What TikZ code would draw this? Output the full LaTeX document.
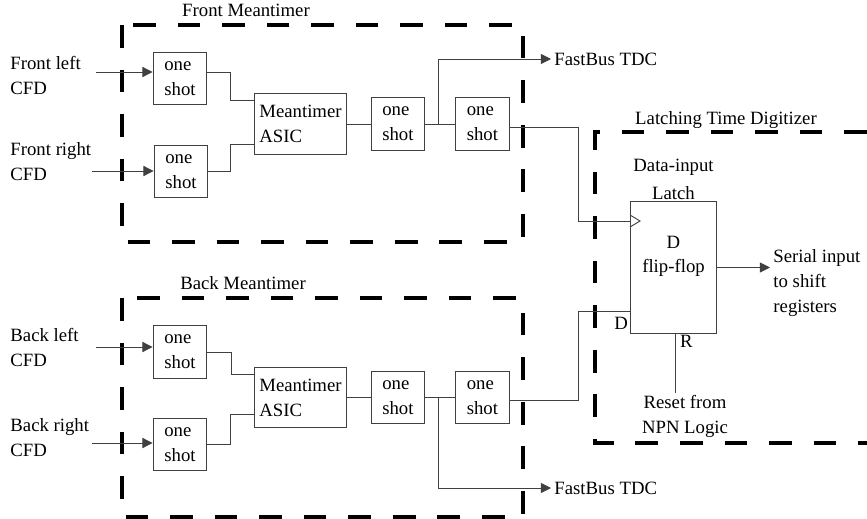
\documentclass[tikz,border=0pt]{standalone}
\usepackage{fontspec}
\setmainfont{Liberation Serif}
\usetikzlibrary{arrows.meta, positioning, calc}

\begin{document}
\begin{tikzpicture}[
  x=0.64pt, y=-0.64pt,
  font=\fontsize{12}{16}\selectfont,
  oneshot/.style={rectangle, draw=black!75, line width=0.6pt, minimum width=34.5pt, minimum height=33.5pt, align=left, inner sep=1pt},
  asic/.style={rectangle, draw=black!75, line width=0.6pt, minimum width=59pt, minimum height=38.5pt, align=left, inner sep=1pt},
  latchbox/.style={rectangle, draw=black!75, line width=0.6pt, minimum width=55.5pt, minimum height=84pt},
  group/.style={line width=2pt, dash pattern=on 14.5pt off 14pt},
  wire/.style={line width=0.6pt, draw=black!75},
  sig/.style={wire, -{Triangle[length=6.5pt, width=6.5pt]}},
  lbl/.style={align=left, inner sep=2pt}
]
\useasboundingbox (0,0) rectangle (867,519);

% Dashed groups
\draw[group] (122,25) rectangle (523,242);
\draw[group] (122,298) rectangle (523,517);
\draw[group] (867,132) -- (595,132) -- (595,443) -- (867,443);
\node (frontT) at (246,10) {Front Meantimer};
\node (backT) at (243,283) {Back Meantimer};
\node (latchT) at (726,120) {Latching Time Digitizer};

% Front meantimer
\node[oneshot] (os1) at (180,78.5) {one\\shot};
\node[oneshot] (os2) at (181,171.5) {one\\shot};
\node[asic] (asicF) at (300.5,124) {Meantimer\\ASIC};
\node[oneshot, right=15pt of asicF] (os3) {one\\shot};
\node[oneshot, right=19pt of os3] (os4) {one\\shot};

% Back meantimer
\node[oneshot] (os5) at (180,352) {one\\shot};
\node[oneshot] (os6) at (180,444.5) {one\\shot};
\node[asic] (asicB) at (300.5,397.5) {Meantimer\\ASIC};
\node[oneshot, right=15pt of asicB] (os7) {one\\shot};
\node[oneshot, right=19pt of os7] (os8) {one\\shot};

% Inputs
\node[lbl, anchor=west] (fl) at (7,75) {Front left\\CFD};
\node[lbl, anchor=west] (fr) at (7,162) {Front right\\CFD};
\node[lbl, anchor=west] (bl) at (7,347) {Back left\\CFD};
\node[lbl, anchor=west] (br) at (7,438) {Back right\\CFD};
\coordinate (inFL) at (96,72);
\coordinate (inFR) at (92,171);
\coordinate (inBL) at (96,347);
\coordinate (inBR) at (92,443);

% Outputs to TDC
\node[lbl, anchor=west] (fbF) at (551,59) {FastBus TDC};
\node[lbl, anchor=west] (fbB) at (551,488) {FastBus TDC};

% Latch
\node[latchbox] (ff) at (673.5,267.5) {};
\node[align=center] (fftxt) at ([yshift=7pt]ff.center) {D\\[-1pt]flip-flop};
\node[align=center, anchor=south, inner sep=1pt] (ffT) at (ff.north) {Data-input\\[2pt]Latch};
\node[anchor=north west, inner sep=1pt] (rlbl) at ([xshift=3pt]ff.south) {R};
\node[anchor=north east, inner sep=1pt] (dlbl) at ([yshift=-3pt]ff.south west |- 0,311) {D};
\coordinate (ffclk) at (630,221);
\coordinate (ffd) at (630,311);
\node[lbl, anchor=west] (serial) at (770,283) {Serial input\\to shift\\registers};
\node[align=center, anchor=north, inner sep=1pt] (reset) at (685,393) {Reset from\\NPN Logic};

% Arrows
\draw[sig] (inFL) -- (inFL -| os1.west);
\draw[sig] (inFR) -- (inFR -| os2.west);
\draw[sig] (inBL) -- (inBL -| os5.west);
\draw[sig] (inBR) -- (inBR -| os6.west);

\draw[wire] ([yshift=4pt]os1.east) -- ++(23,0) |- ([yshift=15pt]asicF.west);
\draw[wire] (os2.east) -- ++(22,0) |- ([yshift=-13pt]asicF.west);
\draw[wire] (asicF.east |- os3.west) -- (os3.west);
\draw[wire] (os3.east) -- (os4.west);
\draw[sig] ($(os3.east)!0.45!(os4.west)$) |- (fbF.west);
\draw[wire] ([yshift=-2pt]os4.east) -- ++(69,0) |- (ffclk);

\draw[wire] (os5.east) -- ++(24,0) |- ([yshift=15pt]asicB.west);
\draw[wire] (os6.east) -- ++(23,0) |- ([yshift=-11pt]asicB.west);
\draw[wire] (asicB.east |- os7.west) -- (os7.west);
\draw[wire] (os7.east) -- (os8.west);
\draw[sig] ($(os7.east)!0.45!(os8.west)$) |- (fbB.west);
\draw[wire] ([yshift=-2pt]os8.east) -- ++(69,0) |- (ffd);

\draw[wire] (ffclk) ++(0,-6) -- ++(10,6) -- ++(-10,6);
\draw[sig] (ff.east) -- (ff.east -| serial.west);
\draw[wire] ([xshift=1pt]ff.south) -- ([xshift=1pt]ff.south |- reset.north);

\end{tikzpicture}
\end{document}
